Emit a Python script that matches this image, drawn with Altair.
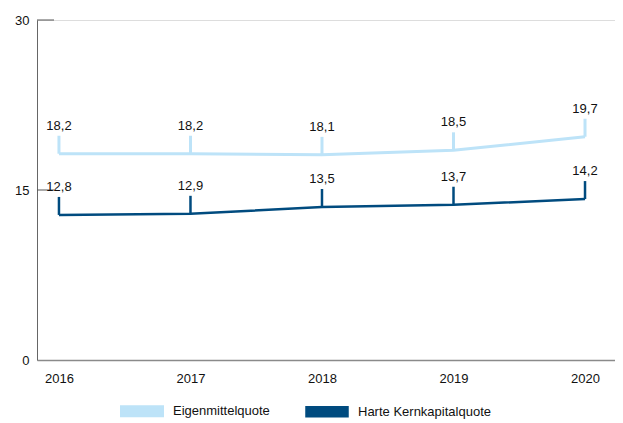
import altair as alt
import pandas as pd

years = [2016, 2017, 2018, 2019, 2020]
eigenmittel = [18.2, 18.2, 18.1, 18.5, 19.7]
harte = [12.8, 12.9, 13.5, 13.7, 14.2]
series_names = ["Eigenmittelquote", "Harte Kernkapitalquote"]
colors = ["#BDE3F8", "#004B7F"]
y_ticks = [0, 15, 30]

rows = []
for yr, a, b in zip(years, eigenmittel, harte):
    rows.append({"year": yr, "value": a, "series": series_names[0],
                 "label": f"{a:.1f}".replace(".", ",")})
    rows.append({"year": yr, "value": b, "series": series_names[1],
                 "label": f"{b:.1f}".replace(".", ",")})
df = pd.DataFrame(rows)
tick_df = pd.DataFrame({"value": y_ticks[1:]})

FONT = "Liberation Sans"

x = alt.X("year:Q",
          scale=alt.Scale(domain=[2015.833, 2020.228], nice=False, zero=False),
          axis=alt.Axis(values=years, format="d", title=None, ticks=False, grid=False,
                        labelPadding=12, domainColor="#8a8a8a", domainWidth=1.5,
                        labelFontSize=13, labelColor="#111", labelFont=FONT))
y = alt.Y("value:Q",
          scale=alt.Scale(domain=[0, 30], nice=False),
          axis=alt.Axis(values=y_ticks, title=None, ticks=False, grid=False,
                        labelPadding=8, domainColor="#666", domainWidth=1,
                        labelFontSize=13, labelColor="#111", labelFont=FONT))

color_legend = alt.Color(
    "series:N",
    scale=alt.Scale(domain=series_names, range=colors),
    legend=alt.Legend(title=None, orient="none", legendX=83, legendY=369,
                      direction="horizontal",
                      symbolType="M-1,-0.22L1,-0.22L1,0.22L-1,0.22Z",
                      symbolStrokeWidth=0, symbolSize=1681, symbolOpacity=1,
                      labelFontSize=13,
                      labelFont=FONT, labelColor="#111", labelOffset=9,
                      columnPadding=31, padding=0, symbolOffset=0),
)
color_nolegend = alt.Color("series:N", scale=alt.Scale(domain=series_names, range=colors), legend=None)

base = alt.Chart(df)

# empty layer that only carries the legend (filled symbols)
legend_layer = base.transform_filter(alt.datum.year < 0).mark_square(filled=True, opacity=1).encode(
    x=x, y=y, color=color_legend,
)

lines = base.mark_line().encode(
    x=x, y=y, color=color_nolegend,
    strokeWidth=alt.StrokeWidth("series:N", scale=alt.Scale(domain=series_names, range=[3, 2.5]), legend=None),
)

leaders = base.mark_rule(y2Offset=-18).encode(
    x=x, y=y, y2=alt.Y2("value:Q"), color=color_nolegend,
    strokeWidth=alt.StrokeWidth("series:N", scale=alt.Scale(domain=series_names, range=[1, 2]), legend=None),
)

labels = base.mark_text(dy=-24, baseline="alphabetic", fontSize=13, font=FONT, color="#111").encode(
    x=x, y=y, text="label:N"
)

ticks = alt.Chart(tick_df).mark_rule(color="#555", strokeWidth=1).encode(
    y=y, x=alt.value(0), x2=alt.value(17),
)

chart = alt.layer(legend_layer, ticks, lines, leaders, labels).properties(
    width=578, height=340,
    autosize=alt.AutoSizeParams(type="none"),
    padding={"left": 29, "top": 12, "right": 0, "bottom": 62},
).configure_view(strokeWidth=0).configure(font=FONT)

chart.save("out.html", embed_options={"renderer": "svg", "actions": False})
